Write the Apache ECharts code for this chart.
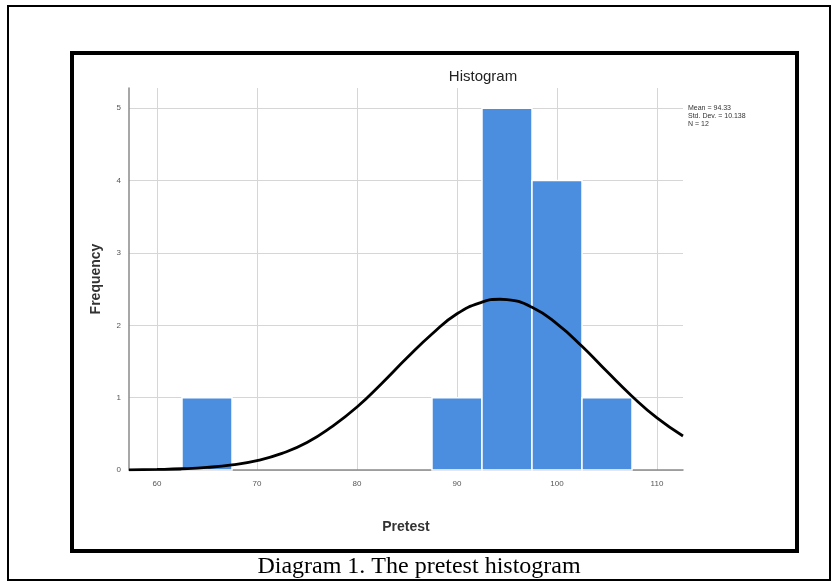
<!DOCTYPE html>
<html>
<head>
<meta charset="utf-8">
<script src="https://cdn.jsdelivr.net/npm/echarts@6/dist/echarts.min.js"></script>
<style>
  html, body { margin: 0; padding: 0; background: #fff; }
  #main { width: 838px; height: 586px; }
</style>
</head>
<body>
<div id="main"></div>
<script>
// histogram bins (Pretest) and their frequencies
var binStart = [62.5, 87.5, 92.5, 97.5, 102.5];
var binEnd = [67.5, 92.5, 97.5, 102.5, 107.5];
var counts = [1, 1, 5, 4, 1];

// normal curve
var curveX = [57.2, 60, 62.5, 65, 67.5, 70, 72.5, 75, 77.5, 80, 82.5, 85, 87.5, 90, 92.5, 94.3, 95, 97.5, 100, 102.5, 105, 107.5, 110, 112.6];
var curveY = [0.003, 0.008, 0.017, 0.036, 0.071, 0.13, 0.23, 0.38, 0.6, 0.87, 1.2, 1.55, 1.88, 2.16, 2.32, 2.36, 2.355, 2.25, 2.02, 1.71, 1.36, 1.02, 0.72, 0.47];

var xTicks = [60, 70, 80, 90, 100, 110];
var yTicks = [0, 1, 2, 3, 4, 5];
var statsLines = ['Mean = 94.33', 'Std. Dev. = 10.138', 'N = 12'];

var myChart = echarts.init(document.getElementById('main'));

var barData = binStart.map(function (s, i) {
  return [s, binEnd[i], counts[i]];
});
var lineData = curveX.map(function (x, i) {
  return [x, curveY[i]];
});

myChart.setOption({
  animation: false,
  title: {
    text: 'Histogram',
    left: 478,
    top: 64,
    textAlign: 'center',
    textStyle: { fontFamily: 'Arial, Liberation Sans', fontSize: 15, fontWeight: 'normal', color: '#222' }
  },
  grid: { left: 129, right: 155, top: 88, bottom: 116 },
  xAxis: {
    type: 'value',
    min: 57.2,
    max: 112.6,
    name: 'Pretest',
    nameLocation: 'middle',
    nameGap: 50,
    nameTextStyle: { fontFamily: 'Arial, Liberation Sans', fontSize: 14, fontWeight: 'bold', color: '#333' },
    axisLine: { lineStyle: { color: '#8a8a8a', width: 1.5 } },
    axisTick: { show: false, customValues: xTicks },
    axisLabel: { customValues: xTicks, fontSize: 8, color: '#555', margin: 10 },
    splitLine: { show: true, lineStyle: { color: '#d6d6d6', width: 1 } }
  },
  yAxis: {
    type: 'value',
    min: 0,
    max: 5.28,
    name: 'Frequency',
    nameLocation: 'middle',
    nameGap: 26,
    nameRotate: 90,
    nameTextStyle: { fontFamily: 'Arial, Liberation Sans', fontSize: 14, fontWeight: 'bold', color: '#333' },
    axisLine: { show: true, lineStyle: { color: '#8a8a8a', width: 1.5 } },
    axisTick: { show: false, customValues: yTicks },
    axisLabel: { customValues: yTicks, fontSize: 8, color: '#555', margin: 8 },
    splitLine: { show: true, lineStyle: { color: '#d6d6d6', width: 1 } }
  },
  graphic: [
    // page border
    { type: 'rect', shape: { x: 8, y: 6, width: 822, height: 574 }, style: { fill: 'none', stroke: '#000', lineWidth: 2 } },
    // chart frame
    { type: 'rect', shape: { x: 72, y: 53, width: 725, height: 498 }, style: { fill: 'none', stroke: '#000', lineWidth: 4 } },
    {
      type: 'text', left: 688, top: 104,
      style: { text: statsLines.join('\n'), fontSize: 7, lineHeight: 8, fill: '#333', fontFamily: 'Arial, Liberation Sans' }
    },
    {
      type: 'text', left: 'center', top: 555,
      style: { text: 'Diagram 1. The pretest histogram', fontSize: 24, fill: '#000', fontFamily: 'Times New Roman, Liberation Serif' }
    }
  ],
  series: [
    {
      type: 'custom',
      renderItem: function (params, api) {
        var p0 = api.coord([api.value(0), 0]);
        var p1 = api.coord([api.value(1), api.value(2)]);
        return {
          type: 'rect',
          shape: { x: p0[0], y: p1[1], width: p1[0] - p0[0], height: p0[1] - p1[1] },
          style: { fill: '#4b8ddf', stroke: '#fff', lineWidth: 1.5 }
        };
      },
      encode: { x: [0, 1], y: 2 },
      data: barData,
      z: 2
    },
    {
      type: 'line',
      data: lineData,
      smooth: true,
      symbol: 'none',
      lineStyle: { color: '#000', width: 2.8 },
      z: 3
    }
  ]
});
</script>
</body>
</html>
